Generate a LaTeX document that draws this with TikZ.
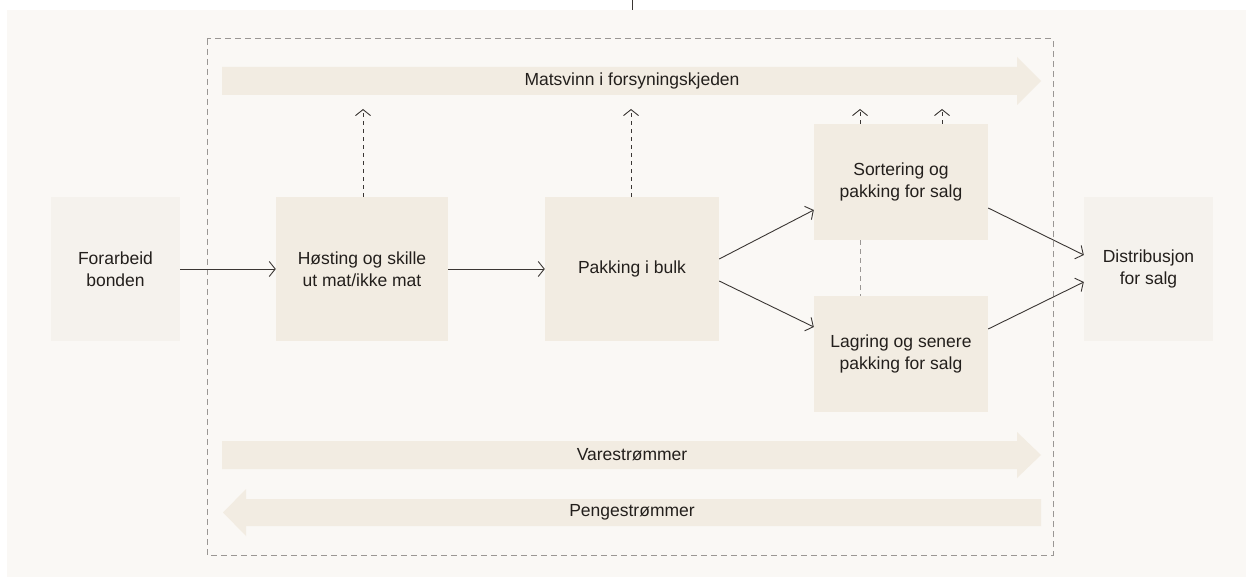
\documentclass[tikz,border=0pt]{standalone}
\usepackage{fontspec}
\setmainfont{Liberation Sans}
\usetikzlibrary{arrows.meta}
\definecolor{pagebg}{HTML}{FAF8F5}
\definecolor{procfill}{HTML}{F2ECE2}
\definecolor{endfill}{HTML}{F5F2ED}
\definecolor{inkc}{HTML}{231F1C}
\definecolor{linec}{HTML}{3A3633}
\definecolor{frame}{HTML}{9A9794}
\tikzset{
  box/.style={rectangle, fill=procfill, inner sep=0pt, align=center, text=inkc,
    font=\fontsize{17.5}{22}\selectfont},
  endbox/.style={box, fill=endfill},
  flow/.style={draw=linec, line width=0.9pt, -{Straight Barb[length=6pt,width=15pt,line width=0.9pt]}},
  lossflow/.style={flow, dash pattern=on 4pt off 4pt},
  band/.style={fill=procfill},
  bandlabel/.style={text=inkc, font=\fontsize{17.5}{22}\selectfont},
}
\begin{document}
\begin{tikzpicture}[x=1pt,y=-1pt]
\useasboundingbox (0,0) rectangle (1246,577);
\fill[white] (0,0) rectangle (1246,577);
\fill[pagebg] (7,10) rectangle (1246,577);
\draw[linec, line width=1pt] (632,0) -- (632,10);
% dashed frame
\draw[frame, line width=1pt, dash pattern=on 6pt off 4pt] (207,39) rectangle (1053,555);
% bands
\fill[band] (222,67) -- (1017,67) -- (1017,57) -- (1041,81) -- (1017,105) -- (1017,95) -- (222,95) -- cycle;
\node[bandlabel] (matsvinn) at (632,81) {Matsvinn i forsyningskjeden};
\fill[band] (222,441) -- (1017,441) -- (1017,432) -- (1041,455) -- (1017,478) -- (1017,469) -- (222,469) -- cycle;
\node[bandlabel] (vare) at (632,455) {Varestrømmer};
\fill[band] (1041,499) -- (246,499) -- (246,489) -- (223,512.5) -- (246,536) -- (246,526) -- (1041,526) -- cycle;
\node[bandlabel] (penge) at (632,512.5) {Pengestrømmer};
% boxes
\node[endbox, minimum width=129pt, minimum height=144pt] (forarbeid) at (115.5,269) {Forarbeid\\bonden};
\node[box, minimum width=172pt, minimum height=144pt] (host) at (362,269) {Høsting og skille\\ut mat/ikke mat};
\node[box, minimum width=174pt, minimum height=144pt] (bulk) at (632,269) {Pakking i bulk};
\node[box, minimum width=174pt, minimum height=116pt] (sort) at (901,182) {Sortering og\\pakking for salg};
\node[box, minimum width=174pt, minimum height=116pt] (lagr) at (901,354) {Lagring og senere\\pakking for salg};
\node[endbox, minimum width=129pt, minimum height=144pt] (dist) at (1148.5,269) {Distribusjon\\for salg};
% loss points
\coordinate (l1) at (363,109);
\coordinate (l2) at (631,109);
\coordinate (l3) at (860,109);
\coordinate (l4) at (942,109);
% flows
\draw[flow] (forarbeid.east) -- (host.west);
\draw[flow] (host.east) -- (bulk.west);
\draw[flow] (bulk.east |- 0,259) -- (sort.west |- 0,210);
\draw[flow] (bulk.east |- 0,281) -- (lagr.west |- 0,327);
\draw[flow] (sort.east |- 0,208) -- (dist.west |- 0,255);
\draw[flow] (lagr.east |- 0,329) -- (dist.west |- 0,282);
\draw[lossflow] (host.north -| l1) -- (l1);
\draw[lossflow] (bulk.north -| l2) -- (l2);
\draw[lossflow] (sort.north -| l3) -- (l3);
\draw[lossflow] (sort.north -| l4) -- (l4);
\draw[frame, line width=1pt, dash pattern=on 5pt off 4pt] (sort.south -| l3) -- (lagr.north -| l3);
\end{tikzpicture}
\end{document}
